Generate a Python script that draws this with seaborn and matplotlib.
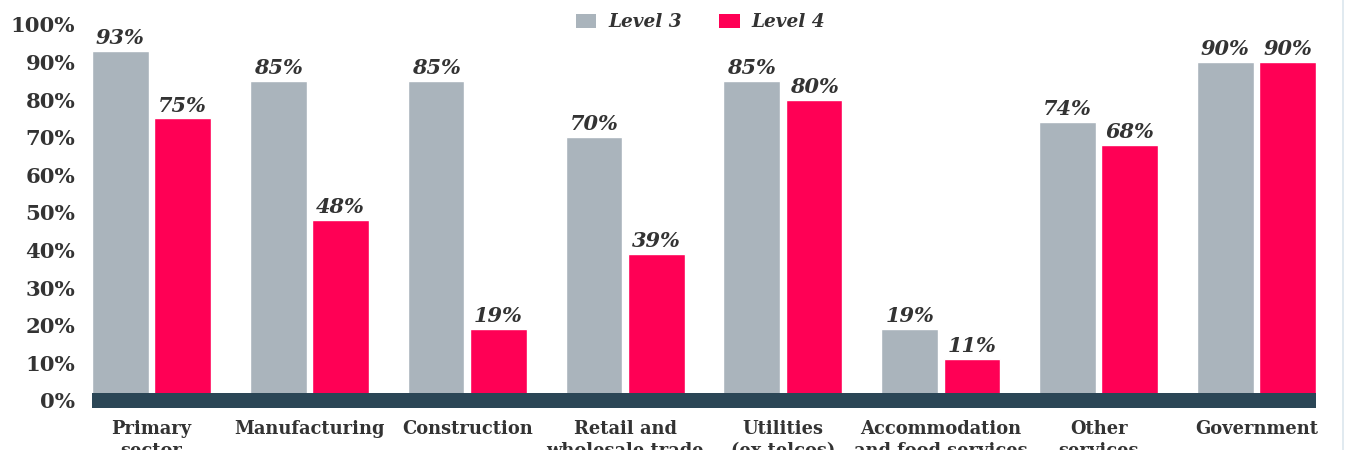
import matplotlib
matplotlib.use("Agg")
import matplotlib.pyplot as plt
from matplotlib.patches import Patch
from matplotlib.lines import Line2D
import pandas as pd
import seaborn as sns

# Sectors and the share at each level (%)
sectors = [
    "Primary\nsector",
    "Manufacturing",
    "Construction",
    "Retail and\nwholesale trade",
    "Utilities\n(ex telcos)",
    "Accommodation\nand food services",
    "Other\nservices",
    "Government",
]
level3 = [93, 85, 85, 70, 85, 19, 74, 90]
level4 = [75, 48, 19, 39, 80, 11, 68, 90]
series_names = ["Level 3", "Level 4"]
y_ticks = [0, 10, 20, 30, 40, 50, 60, 70, 80, 90, 100]

GREY = "#aab4bc"
PINK = "#ff0055"
BAND = "#2b4656"
TEXT = "#333333"

df = pd.DataFrame({
    "sector": sectors * 2,
    "level": [series_names[0]] * len(sectors) + [series_names[1]] * len(sectors),
    "value": level3 + level4,
})

sns.set_style("white")
plt.rcParams["font.family"] = ["DejaVu Serif"]

fig = plt.figure(figsize=(13.45, 4.5), dpi=100)
ax = fig.add_axes([92 / 1345, 42 / 450, (1316 - 92) / 1345, (408 - 24.4) / 450])

sns.barplot(
    data=df, x="sector", y="value", hue="level", order=sectors,
    hue_order=series_names, palette=[GREY, PINK],
    width=0.79, gap=0.09, saturation=1, legend=False, ax=ax,
)

# value labels above every bar
for container in ax.containers:
    ax.bar_label(
        container, labels=[f"{v:.0f}%" for v in container.datavalues],
        padding=2, fontsize=15, fontweight="bold", fontstyle="italic",
        color=TEXT,
    )

# dark baseline band
ax.axhspan(-2, 2, color=BAND, zorder=5, lw=0)

ax.set_xlim(-0.377, 7.377)
ax.set_ylim(-2, 100)
ax.set_yticks(y_ticks)
ax.set_yticklabels([f"{t}%" for t in y_ticks], fontsize=15.3,
                   fontweight="bold", color=TEXT)
ax.set_xticks(range(len(sectors)))
ax.set_xticklabels(sectors, fontsize=12.9, fontweight="bold", color=TEXT,
                   linespacing=1.3)
ax.tick_params(axis="y", length=0, pad=12)
ax.tick_params(axis="x", length=0, pad=8.5)
ax.set_xlabel("")
ax.set_ylabel("")
for side in ax.spines.values():
    side.set_visible(False)

handles = [Patch(facecolor=GREY, edgecolor="none"),
           Patch(facecolor=PINK, edgecolor="none")]
leg = fig.legend(
    handles, series_names, loc="center", bbox_to_anchor=(0.521, 0.951),
    ncol=2, frameon=False, handlelength=1.1, handleheight=0.8,
    handletextpad=0.67, columnspacing=2.0,
    prop={"family": "DejaVu Serif", "weight": "bold", "style": "italic",
          "size": 13.3},
)
for t in leg.get_texts():
    t.set_color(TEXT)

fig.add_artist(Line2D([0.9985, 0.9985], [0, 1], transform=fig.transFigure,
                      color="#dbe6ee", lw=1.2))

fig.savefig("out.png", dpi=100)
